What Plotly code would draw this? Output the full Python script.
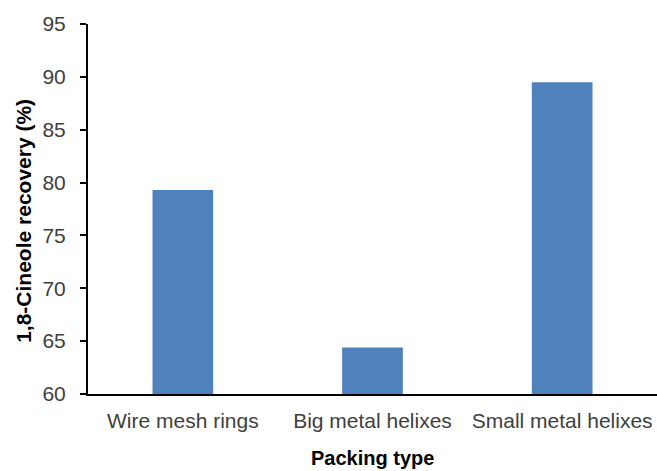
import plotly.graph_objects as go

# Packing types and their 1,8-cineole recovery (%)
packing = ["Wire mesh rings", "Big metal helixes", "Small metal helixes"]
recovery = [79.3, 64.4, 89.5]

y_ticks = [60, 65, 70, 75, 80, 85, 90, 95]

fig = go.Figure(
    go.Bar(
        x=packing,
        y=recovery,
        marker=dict(color="#4f81bd", line=dict(width=0)),
        width=0.32,
    )
)

fig.update_layout(
    width=657,
    height=471,
    margin=dict(l=88, r=0, t=24, b=77),
    paper_bgcolor="white",
    plot_bgcolor="white",
    font=dict(family="Liberation Sans, Arial, sans-serif", size=21, color="#404040"),
    showlegend=False,
    xaxis=dict(
        showline=True,
        linecolor="black",
        linewidth=2,
        ticks="",
        ticklabelstandoff=7,
        tickfont=dict(size=21, color="#404040"),
        showgrid=False,
    ),
    yaxis=dict(
        range=[60, 95],
        tickvals=y_ticks,
        showline=True,
        linecolor="black",
        linewidth=2,
        ticks="outside",
        ticklen=6,
        tickwidth=2,
        tickcolor="black",
        ticklabelstandoff=10,
        tickfont=dict(size=21, color="#404040"),
        showgrid=False,
        zeroline=False,
    ),
    annotations=[
        dict(
            text="<b>Packing type</b>",
            xref="paper", yref="paper",
            x=0.5, y=-0.172,
            xanchor="center", yanchor="middle",
            showarrow=False,
            font=dict(size=20, color="black"),
        ),
        dict(
            text="<b>1,8-Cineole recovery (%)</b>",
            xref="paper", yref="paper",
            x=-0.1125, y=0.468,
            xanchor="center", yanchor="middle",
            textangle=-90,
            showarrow=False,
            font=dict(size=21, color="black"),
        ),
    ],
)

fig.write_html("out.html")
